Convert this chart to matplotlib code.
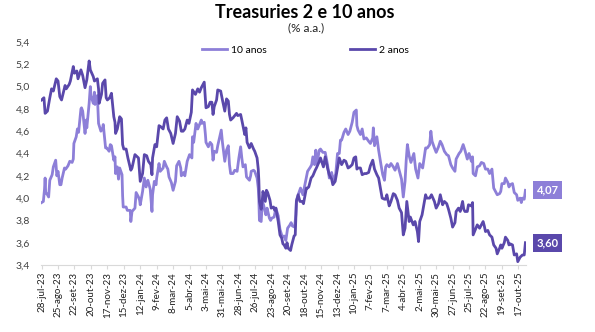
import matplotlib
matplotlib.use("Agg")
import matplotlib.pyplot as plt
import pandas as pd

# ---------------- data ----------------
dates_10a = [
    "2023-07-28","2023-07-31","2023-08-02","2023-08-03","2023-08-04","2023-08-07","2023-08-09","2023-08-11",
    "2023-08-15","2023-08-17","2023-08-21","2023-08-23","2023-08-25","2023-08-28","2023-08-30","2023-09-01",
    "2023-09-05","2023-09-07","2023-09-11","2023-09-14","2023-09-18","2023-09-20","2023-09-21","2023-09-25",
    "2023-09-27","2023-09-29","2023-10-03","2023-10-04","2023-10-06","2023-10-10","2023-10-12","2023-10-13",
    "2023-10-17","2023-10-19","2023-10-20","2023-10-24","2023-10-26","2023-10-27","2023-10-31","2023-11-02",
    "2023-11-06","2023-11-09","2023-11-10","2023-11-14","2023-11-16","2023-11-20","2023-11-22","2023-11-24",
    "2023-11-28","2023-11-30","2023-12-01","2023-12-04","2023-12-06","2023-12-08","2023-12-12","2023-12-13",
    "2023-12-14","2023-12-19","2023-12-21","2023-12-26","2023-12-27","2023-12-29","2024-01-03","2024-01-05",
    "2024-01-09","2024-01-11","2024-01-12","2024-01-16","2024-01-19","2024-01-22","2024-01-25","2024-01-29",
    "2024-01-31","2024-02-01","2024-02-02","2024-02-05","2024-02-08","2024-02-09","2024-02-13","2024-02-15",
    "2024-02-20","2024-02-22","2024-02-26","2024-02-28","2024-03-01","2024-03-05","2024-03-08","2024-03-12",
    "2024-03-14","2024-03-18","2024-03-21","2024-03-22","2024-03-26","2024-03-28","2024-04-01","2024-04-03",
    "2024-04-05","2024-04-09","2024-04-10","2024-04-12","2024-04-16","2024-04-19","2024-04-25","2024-04-26",
    "2024-04-30","2024-05-02","2024-05-03","2024-05-07","2024-05-10","2024-05-13","2024-05-15","2024-05-17",
    "2024-05-21","2024-05-23","2024-05-29","2024-05-31","2024-06-04","2024-06-07","2024-06-10","2024-06-12",
    "2024-06-14","2024-06-18","2024-06-21","2024-06-25","2024-06-28","2024-07-01","2024-07-03","2024-07-05",
    "2024-07-09","2024-07-11","2024-07-16","2024-07-18","2024-07-19","2024-07-23","2024-07-25","2024-07-29",
    "2024-07-31","2024-08-01","2024-08-02","2024-08-05","2024-08-07","2024-08-09","2024-08-13","2024-08-15",
    "2024-08-19","2024-08-21","2024-08-23","2024-08-27","2024-08-30","2024-09-03","2024-09-06","2024-09-10",
    "2024-09-13","2024-09-16","2024-09-19","2024-09-23","2024-09-25","2024-09-27","2024-10-01","2024-10-03",
    "2024-10-04","2024-10-07","2024-10-09","2024-10-11","2024-10-15","2024-10-18","2024-10-21","2024-10-23",
    "2024-10-28","2024-10-30","2024-11-01","2024-11-04","2024-11-06","2024-11-08","2024-11-12","2024-11-14",
    "2024-11-18","2024-11-20","2024-11-22","2024-11-26","2024-11-29","2024-12-03","2024-12-06","2024-12-10",
    "2024-12-13","2024-12-16","2024-12-18","2024-12-20","2024-12-24","2024-12-27","2024-12-31","2025-01-03",
    "2025-01-07","2025-01-10","2025-01-14","2025-01-15","2025-01-17","2025-01-21","2025-01-24","2025-01-27",
    "2025-01-31","2025-02-04","2025-02-07","2025-02-11","2025-02-12","2025-02-14","2025-02-18","2025-02-21",
    "2025-02-25","2025-02-28","2025-03-03","2025-03-05","2025-03-07","2025-03-11","2025-03-14","2025-03-18",
    "2025-03-21","2025-03-25","2025-03-28","2025-04-01","2025-04-04","2025-04-07","2025-04-09","2025-04-11",
    "2025-04-14","2025-04-17","2025-04-22","2025-04-25","2025-04-29","2025-05-02","2025-05-07","2025-05-12",
    "2025-05-15","2025-05-19","2025-05-21","2025-05-23","2025-05-27","2025-05-30","2025-06-03","2025-06-06",
    "2025-06-09","2025-06-13","2025-06-17","2025-06-20","2025-06-24","2025-06-27","2025-07-01","2025-07-03",
    "2025-07-08","2025-07-11","2025-07-15","2025-07-18","2025-07-22","2025-07-25","2025-07-29","2025-07-31",
    "2025-08-01","2025-08-05","2025-08-08","2025-08-12","2025-08-15","2025-08-19","2025-08-22","2025-08-26",
    "2025-08-29","2025-09-02","2025-09-05","2025-09-09","2025-09-11","2025-09-15","2025-09-17","2025-09-19",
    "2025-09-23","2025-09-25","2025-09-29","2025-10-01","2025-10-03","2025-10-07","2025-10-10","2025-10-14",
    "2025-10-16","2025-10-20","2025-10-22","2025-10-24","2025-10-27","2025-10-29",
]
vals_10a = [
    3.96,3.97,4.08,4.18,4.05,4.03,4.01,4.16,
    4.21,4.28,4.34,4.20,4.24,4.12,4.12,4.18,
    4.27,4.26,4.29,4.33,4.32,4.35,4.49,4.55,
    4.62,4.59,4.80,4.81,4.78,4.58,4.70,4.63,
    4.85,5.00,4.92,4.85,4.95,4.84,4.92,4.67,
    4.60,4.63,4.66,4.45,4.45,4.42,4.48,4.47,
    4.34,4.37,4.22,4.28,4.17,4.27,4.21,4.02,
    3.92,3.92,3.89,3.89,3.79,3.88,3.91,4.05,
    4.01,3.98,3.94,4.06,4.18,4.10,4.16,4.08,
    3.95,3.88,4.03,4.15,4.12,4.18,4.31,4.24,
    4.27,4.33,4.28,4.26,4.19,4.14,4.07,4.15,
    4.29,4.33,4.27,4.20,4.23,4.20,4.33,4.36,
    4.39,4.36,4.55,4.50,4.67,4.62,4.70,4.67,
    4.68,4.57,4.50,4.46,4.50,4.48,4.34,4.42,
    4.41,4.47,4.61,4.50,4.33,4.43,4.47,4.30,
    4.22,4.22,4.25,4.24,4.36,4.46,4.36,4.28,
    4.30,4.19,4.16,4.20,4.24,4.25,4.24,4.18,
    4.09,3.99,3.80,3.79,3.97,3.94,3.85,3.91,
    3.82,3.80,3.82,3.83,3.91,3.84,3.72,3.65,
    3.66,3.62,3.73,3.76,3.78,3.75,3.74,3.85,
    3.98,4.03,4.06,4.09,4.03,4.11,4.19,4.24,
    4.28,4.30,4.37,4.30,4.43,4.31,4.43,4.44,
    4.41,4.41,4.41,4.30,4.18,4.23,4.15,4.22,
    4.40,4.40,4.52,4.52,4.59,4.62,4.57,4.60,
    4.68,4.77,4.79,4.65,4.61,4.57,4.62,4.53,
    4.54,4.51,4.49,4.54,4.63,4.47,4.55,4.43,
    4.30,4.21,4.16,4.28,4.30,4.28,4.31,4.28,
    4.25,4.31,4.25,4.17,4.01,4.15,4.34,4.48,
    4.38,4.32,4.40,4.26,4.18,4.31,4.27,4.45,
    4.45,4.48,4.60,4.51,4.45,4.41,4.46,4.51,
    4.48,4.42,4.39,4.38,4.30,4.27,4.24,4.35,
    4.40,4.42,4.48,4.43,4.35,4.40,4.33,4.37,
    4.22,4.20,4.28,4.29,4.32,4.31,4.26,4.26,
    4.22,4.26,4.09,4.05,4.03,4.04,4.06,4.13,
    4.13,4.18,4.14,4.10,4.12,4.13,4.05,4.03,
    3.98,4.00,3.96,4.00,3.99,4.07,
]

dates_2a = [
    "2023-07-28","2023-08-01","2023-08-03","2023-08-07","2023-08-11","2023-08-14","2023-08-17","2023-08-22",
    "2023-08-25","2023-08-28","2023-08-31","2023-09-06","2023-09-08","2023-09-13","2023-09-15","2023-09-20",
    "2023-09-22","2023-09-26","2023-09-28","2023-10-03","2023-10-06","2023-10-10","2023-10-13","2023-10-17",
    "2023-10-19","2023-10-24","2023-10-26","2023-10-31","2023-11-02","2023-11-03","2023-11-07","2023-11-09",
    "2023-11-13","2023-11-15","2023-11-17","2023-11-21","2023-11-24","2023-11-28","2023-11-30","2023-12-01",
    "2023-12-04","2023-12-08","2023-12-11","2023-12-13","2023-12-15","2023-12-19","2023-12-22","2023-12-27",
    "2023-12-29","2024-01-03","2024-01-05","2024-01-09","2024-01-12","2024-01-16","2024-01-19","2024-01-23",
    "2024-01-26","2024-01-30","2024-02-01","2024-02-02","2024-02-06","2024-02-09","2024-02-13","2024-02-16",
    "2024-02-20","2024-02-23","2024-02-26","2024-02-29","2024-03-04","2024-03-08","2024-03-12","2024-03-15",
    "2024-03-19","2024-03-22","2024-03-25","2024-03-28","2024-04-01","2024-04-04","2024-04-08","2024-04-10",
    "2024-04-15","2024-04-19","2024-04-22","2024-04-25","2024-04-30","2024-05-02","2024-05-03","2024-05-07",
    "2024-05-10","2024-05-13","2024-05-15","2024-05-17","2024-05-21","2024-05-23","2024-05-28","2024-05-31",
    "2024-06-04","2024-06-07","2024-06-10","2024-06-12","2024-06-14","2024-06-18","2024-06-24","2024-06-26",
    "2024-07-01","2024-07-03","2024-07-08","2024-07-10","2024-07-12","2024-07-16","2024-07-19","2024-07-23",
    "2024-07-25","2024-07-29","2024-07-31","2024-08-01","2024-08-02","2024-08-05","2024-08-07","2024-08-08",
    "2024-08-12","2024-08-14","2024-08-16","2024-08-20","2024-08-22","2024-08-26","2024-08-28","2024-08-30",
    "2024-09-03","2024-09-06","2024-09-09","2024-09-11","2024-09-13","2024-09-16","2024-09-18","2024-09-20",
    "2024-09-24","2024-09-26","2024-09-30","2024-10-02","2024-10-04","2024-10-07","2024-10-10","2024-10-14",
    "2024-10-16","2024-10-21","2024-10-23","2024-10-25","2024-10-29","2024-11-01","2024-11-05","2024-11-07",
    "2024-11-12","2024-11-14","2024-11-19","2024-11-22","2024-11-26","2024-11-29","2024-12-03","2024-12-05",
    "2024-12-09","2024-12-11","2024-12-16","2024-12-18","2024-12-20","2024-12-24","2024-12-27","2024-12-31",
    "2025-01-03","2025-01-07","2025-01-10","2025-01-13","2025-01-15","2025-01-17","2025-01-21","2025-01-24",
    "2025-01-28","2025-01-31","2025-02-04","2025-02-07","2025-02-11","2025-02-14","2025-02-18","2025-02-21",
    "2025-02-25","2025-02-27","2025-03-03","2025-03-05","2025-03-07","2025-03-11","2025-03-14","2025-03-18",
    "2025-03-21","2025-03-25","2025-03-28","2025-04-01","2025-04-04","2025-04-07","2025-04-10","2025-04-14",
    "2025-04-16","2025-04-21","2025-04-24","2025-04-28","2025-04-30","2025-05-02","2025-05-06","2025-05-08",
    "2025-05-12","2025-05-14","2025-05-19","2025-05-22","2025-05-27","2025-05-30","2025-06-03","2025-06-06",
    "2025-06-10","2025-06-13","2025-06-17","2025-06-20","2025-06-24","2025-06-27","2025-07-01","2025-07-03",
    "2025-07-07","2025-07-10","2025-07-14","2025-07-16","2025-07-18","2025-07-22","2025-07-24","2025-07-29",
    "2025-07-31","2025-08-01","2025-08-05","2025-08-08","2025-08-12","2025-08-14","2025-08-18","2025-08-20",
    "2025-08-22","2025-08-26","2025-08-29","2025-09-02","2025-09-05","2025-09-09","2025-09-11","2025-09-15",
    "2025-09-17","2025-09-19","2025-09-23","2025-09-25","2025-09-29","2025-10-01","2025-10-03","2025-10-07",
    "2025-10-10","2025-10-14","2025-10-16","2025-10-20","2025-10-22","2025-10-24","2025-10-27","2025-10-29",
]
vals_2a = [
    4.88,4.90,4.76,4.78,4.90,4.98,4.96,5.07,
    5.05,4.91,4.88,5.01,4.98,5.02,5.05,5.18,
    5.12,5.14,5.07,5.15,5.10,4.99,5.06,5.23,
    5.15,5.09,5.05,5.07,4.98,4.85,4.93,5.03,
    5.06,4.90,4.88,4.90,4.94,4.73,4.68,4.58,
    4.62,4.73,4.71,4.48,4.44,4.44,4.36,4.25,
    4.27,4.39,4.38,4.36,4.15,4.22,4.39,4.38,
    4.33,4.30,4.21,4.36,4.48,4.46,4.65,4.64,
    4.62,4.70,4.72,4.62,4.58,4.49,4.58,4.73,
    4.69,4.60,4.60,4.62,4.70,4.67,4.77,4.97,
    4.93,4.98,4.95,4.99,5.04,4.88,4.81,4.82,
    4.86,4.86,4.75,4.82,4.88,4.97,4.96,4.88,
    4.78,4.89,4.87,4.75,4.70,4.72,4.76,4.74,
    4.75,4.70,4.57,4.63,4.50,4.45,4.49,4.44,
    4.42,4.36,4.26,4.16,3.97,3.90,3.99,4.06,
    3.97,4.07,4.05,3.98,3.91,3.92,3.89,3.91,
    3.79,3.67,3.64,3.59,3.58,3.55,3.60,3.55,
    3.53,3.58,3.66,3.67,3.97,4.03,3.97,3.97,
    3.95,4.09,4.09,4.10,4.18,4.20,4.25,4.27,
    4.33,4.36,4.28,4.37,4.27,4.21,4.17,4.12,
    4.15,4.21,4.36,4.33,4.30,4.34,4.33,4.27,
    4.28,4.30,4.36,4.37,4.26,4.27,4.27,4.21,
    4.22,4.22,4.23,4.29,4.34,4.26,4.21,4.18,
    4.06,4.00,3.99,3.99,4.03,3.93,3.97,4.04,
    4.03,3.98,3.91,3.87,3.67,3.73,3.97,3.79,
    3.83,3.76,3.79,3.70,3.61,3.79,3.85,3.91,
    4.03,4.00,4.00,4.03,3.97,3.91,3.95,4.03,
    3.94,3.97,3.95,3.90,3.82,3.74,3.78,3.88,
    3.91,3.88,3.97,3.90,3.88,3.88,3.94,3.93,
    3.96,3.67,3.72,3.76,3.73,3.75,3.79,3.75,
    3.70,3.71,3.67,3.65,3.58,3.55,3.50,3.55,
    3.58,3.55,3.60,3.65,3.62,3.58,3.59,3.58,
    3.49,3.50,3.43,3.47,3.48,3.49,3.49,3.60,
]

series_names = ["10 anos", "2 anos"]
y_ticks = [3.4, 3.6, 3.8, 4.0, 4.2, 4.4, 4.6, 4.8, 5.0, 5.2, 5.4]
meses = ["jan", "fev", "mar", "abr", "mai", "jun", "jul", "ago", "set", "out", "nov", "dez"]

title = "Treasuries 2 e 10 anos"
subtitle = "(% a.a.)"

# ---------------- style ----------------
c_10 = "#8d7fd8"
c_2 = "#5a48ab"
font = "Lato"
plt.rcParams["font.family"] = [font, "DejaVu Sans"]

d10 = pd.to_datetime(dates_10a)
d2 = pd.to_datetime(dates_2a)

fig = plt.figure(figsize=(5.95, 3.32), dpi=100)
ax = fig.add_axes([41 / 595, 1 - 265 / 332, (526 - 41) / 595, (265 - 42) / 332])

ax.plot(d10, vals_10a, color=c_10, lw=2.0, label=series_names[0], solid_joinstyle="round")
ax.plot(d2, vals_2a, color=c_2, lw=2.0, label=series_names[1], solid_joinstyle="round")

ax.set_ylim(3.4, 5.4)
ax.set_yticks(y_ticks)
ax.set_yticklabels([f"{v:.1f}".replace(".", ",") for v in y_ticks], fontsize=7.5, color="#404040")
ax.set_xlim(d10[0] - pd.Timedelta(days=1), d10[-1] + pd.Timedelta(days=1))

tick_dates = pd.date_range(d10[0], d10[-1], freq="28D")
ax.set_xticks(tick_dates)
ax.set_xticklabels([f"{d.day}-{meses[d.month - 1]}-{d.strftime('%y')}" for d in tick_dates],
                   rotation=90, fontsize=7, color="#202020")

for s in ["top", "right", "left"]:
    ax.spines[s].set_visible(False)
ax.spines["bottom"].set_color("#d9d9d9")
ax.tick_params(axis="y", length=0, pad=8)
ax.tick_params(axis="x", length=3, color="#d9d9d9", pad=2)

leg = ax.legend(loc="center", bbox_to_anchor=(0.545, 1 - 8 / 223), ncol=2, frameon=False,
                fontsize=7.5, handlelength=2.4, handletextpad=0.35, columnspacing=8.0)

# end-value labels
for d, v, c in [(d10, vals_10a, c_10), (d2, vals_2a, c_2)]:
    ax.annotate(f"{v[-1]:.2f}".replace(".", ","), xy=(d[-1], v[-1]), xytext=(8, 0),
                textcoords="offset points", va="center", ha="left", color="white",
                fontsize=8, fontweight="bold", annotation_clip=False,
                bbox=dict(boxstyle="square,pad=0.3", fc=c, ec="none"))

fig.text(0.513, 1 - 12 / 332, title, ha="center", va="center", fontsize=13, fontweight="bold", color="black")
fig.text(0.515, 1 - 28 / 332, subtitle, ha="center", va="center", fontsize=8.5, color="#202020")

fig.savefig("out.png", dpi=100, facecolor="white")
